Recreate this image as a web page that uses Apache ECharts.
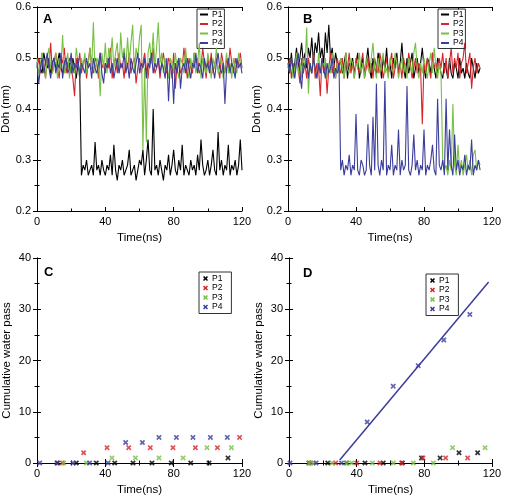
<!DOCTYPE html>
<html>
<head>
<meta charset="utf-8">
<script src="https://cdn.jsdelivr.net/npm/echarts@6/dist/echarts.min.js"></script>
<style>html,body{margin:0;padding:0;background:#fff;}#c{width:505px;height:500px;}</style>
</head>
<body>
<div id="c"></div>
<script>
// ---------- DATA ----------
const seriesNames = ['P1', 'P2', 'P3', 'P4'];
const xTicks = [0, 40, 80, 120];
const dohTicks = [0.2, 0.3, 0.4, 0.5, 0.6];
const passTicks = [0, 10, 20, 30, 40];
const sampleStepNs = 1; // Doh traces sampled every 1 ns starting at 0 ns

// Panel A: Doh (nm)
const dohA_P1 = [0.49,0.50,0.48,0.47,0.51,0.49,0.48,0.50,0.47,0.49,0.50,0.48,0.49,0.51,0.48,0.47,0.49,0.50,0.48,0.49,0.47,0.50,0.48,0.46,0.49,0.47,
0.27,0.29,0.28,0.30,0.27,0.28,0.29,0.27,0.335,0.28,
0.29,0.27,0.30,0.28,0.27,0.29,0.28,0.31,0.27,0.33,
0.28,0.26,0.29,0.28,0.30,0.27,0.28,0.29,0.32,0.27,
0.28,0.29,0.26,0.28,0.30,0.29,0.32,0.27,0.30,0.34,
0.28,0.27,0.40,0.28,0.29,0.27,0.30,0.28,0.26,0.29,
0.28,0.31,0.27,0.29,0.32,0.28,0.27,0.30,0.28,0.33,
0.27,0.29,0.28,0.27,0.30,0.28,0.29,0.27,0.31,0.28,
0.34,0.29,0.27,0.28,0.30,0.27,0.29,0.32,0.28,0.27,
0.355,0.28,0.30,0.27,0.29,0.28,0.33,0.27,0.29,0.28,
0.30,0.27,0.29,0.34,0.28];
const dohA_P2 = [0.48,0.50,0.47,0.51,0.49,0.46,0.50,0.48,0.53,0.47,
0.49,0.51,0.48,0.46,0.50,0.49,0.52,0.47,0.49,0.50,
0.48,0.46,0.425,0.50,0.48,0.51,0.47,0.49,0.50,0.46,
0.49,0.52,0.48,0.47,0.50,0.49,0.46,0.51,0.48,0.49,
0.47,0.50,0.48,0.52,0.46,0.49,0.50,0.47,0.51,0.48,
0.49,0.46,0.50,0.48,0.51,0.47,0.49,0.50,0.45,0.48,
0.50,0.47,0.49,0.51,0.48,0.46,0.50,0.49,0.52,0.47,
0.48,0.50,0.46,0.49,0.51,0.48,0.47,0.50,0.49,0.46,
0.51,0.44,0.49,0.50,0.47,0.48,0.52,0.49,0.46,0.50,
0.48,0.47,0.51,0.49,0.50,0.47,0.48,0.52,0.49,0.46,
0.50,0.48,0.51,0.47,0.49,0.50,0.48,0.46,0.51,0.49,
0.47,0.50,0.48,0.52,0.49,0.47,0.50,0.48,0.49,0.51,
0.48];
const dohA_P3 = [0.50,0.47,0.49,0.51,0.48,0.46,0.50,0.52,0.48,0.47,
0.49,0.51,0.46,0.50,0.48,0.545,0.47,0.49,0.51,0.46,
0.50,0.48,0.47,0.52,0.49,0.46,0.50,0.48,0.51,0.47,
0.49,0.52,0.48,0.57,0.47,0.50,0.49,0.425,0.51,0.48,
0.53,0.47,0.52,0.50,0.54,0.48,0.51,0.53,0.47,0.55,
0.50,0.52,0.48,0.54,0.49,0.53,0.565,0.47,0.52,0.50,
0.54,0.565,0.32,0.48,0.335,0.51,0.53,0.49,0.55,0.48,
0.52,0.57,0.49,0.51,0.47,0.50,0.48,0.46,0.50,0.49,
0.47,0.51,0.48,0.46,0.50,0.49,0.47,0.52,0.48,0.46,
0.50,0.48,0.51,0.47,0.49,0.53,0.46,0.50,0.48,0.47,
0.51,0.49,0.46,0.50,0.48,0.52,0.47,0.49,0.50,0.46,
0.48,0.51,0.47,0.49,0.46,0.50,0.48,0.47,0.51,0.49,
0.48];
const dohA_P4 = [0.49,0.45,0.48,0.50,0.47,0.49,0.51,0.48,0.46,0.49,
0.50,0.47,0.49,0.48,0.51,0.46,0.49,0.50,0.47,0.48,
0.51,0.47,0.49,0.48,0.50,0.46,0.49,0.48,0.47,0.50,
0.48,0.49,0.46,0.50,0.48,0.47,0.49,0.51,0.47,0.45,
0.49,0.48,0.50,0.47,0.49,0.46,0.48,0.50,0.47,0.49,
0.48,0.51,0.47,0.49,0.46,0.50,0.48,0.47,0.49,0.51,
0.47,0.49,0.48,0.50,0.46,0.49,0.48,0.51,0.47,0.49,
0.48,0.50,0.47,0.49,0.48,0.46,0.50,0.415,0.49,0.48,
0.41,0.49,0.47,0.50,0.44,0.48,0.49,0.47,0.50,0.48,
0.46,0.49,0.48,0.51,0.47,0.49,0.48,0.46,0.50,0.48,
0.49,0.47,0.50,0.48,0.46,0.49,0.51,0.48,0.47,0.49,
0.41,0.48,0.50,0.47,0.49,0.48,0.46,0.50,0.48,0.49,
0.47];

// Panel B: Doh (nm)
const dohB_P1 = [0.50,0.48,0.51,0.47,0.49,0.52,0.48,0.50,0.53,0.49,
0.51,0.48,0.52,0.50,0.54,0.49,0.53,0.51,0.55,0.50,
0.52,0.49,0.55,0.51,0.565,0.50,0.52,0.48,0.51,0.49,
0.48,0.50,0.47,0.49,0.51,0.46,0.49,0.48,0.50,0.47,
0.49,0.51,0.46,0.48,0.50,0.47,0.49,0.52,0.48,0.46,
0.50,0.48,0.47,0.51,0.49,0.46,0.50,0.48,0.52,0.47,
0.49,0.46,0.50,0.48,0.51,0.47,0.49,0.53,0.48,0.46,
0.50,0.47,0.49,0.51,0.46,0.48,0.50,0.47,0.49,0.52,
0.48,0.46,0.50,0.49,0.47,0.51,0.48,0.46,0.50,0.49,
0.47,0.46,0.49,0.48,0.46,0.50,0.47,0.46,0.49,0.48,
0.46,0.50,0.47,0.48,0.46,0.49,0.47,0.46,0.50,0.48,
0.46,0.49,0.47,0.48];
const dohB_P2 = [0.48,0.50,0.46,0.49,0.47,0.51,0.48,0.45,0.50,0.47,
0.49,0.46,0.50,0.48,0.47,0.51,0.46,0.49,0.48,0.425,
0.50,0.47,0.49,0.43,0.48,0.51,0.47,0.49,0.46,0.50,
0.48,0.47,0.50,0.46,0.49,0.48,0.51,0.47,0.49,0.46,
0.50,0.48,0.47,0.49,0.51,0.46,0.48,0.50,0.47,0.49,
0.46,0.50,0.48,0.47,0.51,0.49,0.46,0.48,0.50,0.47,
0.49,0.51,0.46,0.48,0.50,0.47,0.49,0.46,0.50,0.48,
0.47,0.51,0.49,0.46,0.48,0.50,0.47,0.49,0.48,0.37,
0.49,0.47,0.50,0.48,0.46,0.51,0.48,0.49,0.47,0.50,
0.48,0.51,0.47,0.50,0.46,0.49,0.52,0.47,0.50,0.48,
0.51,0.46,0.49,0.50,0.53,0.47,0.49,0.51,0.44,0.48,
0.50,0.47,0.49,0.48];
const dohB_P3 = [0.49,0.47,0.50,0.46,0.48,0.51,0.47,0.49,0.46,0.50,
0.48,0.56,0.43,0.49,0.47,0.50,0.48,0.46,0.51,0.47,
0.49,0.48,0.50,0.46,0.49,0.47,0.51,0.48,0.46,0.49,
0.47,0.50,0.48,0.46,0.51,0.48,0.47,0.50,0.49,0.46,
0.49,0.48,0.51,0.47,0.49,0.46,0.50,0.48,0.47,0.50,
0.53,0.48,0.46,0.50,0.47,0.49,0.51,0.47,0.48,0.46,
0.50,0.48,0.47,0.51,0.49,0.46,0.48,0.50,0.47,0.49,
0.46,0.50,0.48,0.47,0.51,0.53,0.48,0.46,0.49,0.47,
0.50,0.48,0.46,0.49,0.51,0.47,0.52,0.48,0.46,0.49,
0.47,0.30,0.28,0.29,0.27,0.30,0.28,0.41,0.29,0.27,
0.33,0.28,0.30,0.27,0.29,0.31,0.28,0.30,0.27,0.31,
0.32,0.28,0.30,0.29];
const dohB_P4 = [0.49,0.47,0.50,0.48,0.46,0.49,0.51,0.47,0.44,0.49,
0.48,0.50,0.46,0.49,0.47,0.50,0.48,0.46,0.49,0.47,
0.50,0.48,0.46,0.49,0.47,0.48,0.50,0.46,0.48,0.47,
0.49,0.28,0.30,0.27,0.29,0.28,0.31,0.27,0.29,0.28,
0.39,0.28,0.27,0.30,0.29,0.27,0.28,0.37,0.29,0.27,
0.385,0.28,0.45,0.29,0.27,0.30,0.28,0.455,0.27,0.29,
0.28,0.33,0.27,0.29,0.28,0.36,0.27,0.30,0.28,0.29,
0.445,0.28,0.27,0.29,0.35,0.28,0.30,0.27,0.29,0.28,
0.36,0.27,0.29,0.28,0.30,0.33,0.28,0.27,0.42,0.29,
0.28,0.30,0.27,0.42,0.28,0.36,0.29,0.27,0.35,0.28,
0.30,0.27,0.29,0.28,0.31,0.27,0.29,0.28,0.34,0.27,
0.29,0.28,0.30,0.28];

// Panel C: cumulative water pass [time ns, count]
const passC_P1 = [[12,0],[23,0],[34.7,0],[45.5,0],[56.2,0],[67.3,0],[78.6,0],[90,0],[100.7,0],[111.8,1]];
const passC_P2 = [[14.8,0],[27.3,2],[41,3],[53.7,3],[66.3,3],[79.6,3],[92.7,3],[105.6,3],[118.6,5]];
const passC_P3 = [[15.6,0],[28.9,0],[43.9,1],[57.6,1],[71.4,1],[85.5,1],[99.5,3],[113.8,3]];
const passC_P4 = [[1.6,0],[11.7,0],[21,0],[30.8,0],[41.6,0],[51.9,4],[61.7,4],[71.4,5],[81.6,5],[91.3,5],[101.5,5],[111.4,5]];

// Panel D: cumulative water pass [time ns, count]
const passD_P1 = [[11.8,0],[22.9,0],[34,0],[44.9,0],[55.7,0],[67,0],[78.3,1],[89.3,1],[100.5,2],[111.5,2]];
const passD_P2 = [[12.8,0],[27.6,0],[40,0],[53.8,0],[66.6,0],[79.2,1],[92.6,1],[105.6,1]];
const passD_P3 = [[11.8,0],[14.4,0],[25.5,0],[34.1,0],[37,0],[49.3,0],[61.7,0],[73.5,0],[85.3,0],[96.7,3],[115.9,3]];
const passD_P4 = [[0.6,0],[16,0],[31,0],[46.2,8],[61.6,15],[76.4,19],[91.5,24],[106.9,29]];
const fitD_P4 = [[30,0.6],[118,35.3]];

// ---------- STYLE ----------
const colors = ['#000000', '#d8232a', '#77c043', '#3b3d9b'];
const FONT = 'Liberation Sans, Arial, sans-serif';
const xMark = 'path://M0,2.2L2.2,0L5,2.8L7.8,0L10,2.2L7.2,5L10,7.8L7.8,10L5,7.2L2.2,10L0,7.8L2.8,5Z';

const grids = [
  {left: 37, top: 7, width: 205, height: 204},
  {left: 288, top: 7, width: 204, height: 204},
  {left: 37, top: 258, width: 205, height: 205},
  {left: 289, top: 258, width: 203, height: 205}
].map(g => Object.assign(g, {containLabel: false, outerBoundsMode: 'none'}));

function toPairs(vals) { return vals.map((v, i) => [i * sampleStepNs, v]); }

const lineStyleAxis = {show: true, lineStyle: {color: '#000', width: 1}};
const tickCommon = {show: true, inside: true, length: 4, lineStyle: {color: '#000'}};
const minorCommon = {show: true, splitNumber: 2, length: 2.5, lineStyle: {color: '#000'}};
function mainX(g) {
  return {type: 'value', gridIndex: g, min: xTicks[0], max: xTicks[xTicks.length - 1], interval: xTicks[1] - xTicks[0],
    position: 'bottom', axisLine: lineStyleAxis, axisTick: tickCommon, minorTick: minorCommon,
    splitLine: {show: false}, minorSplitLine: {show: false},
    axisLabel: {color: '#000', fontSize: 11, fontFamily: FONT, margin: 5},
    name: 'Time(ns)', nameLocation: 'middle', nameGap: 21,
    nameTextStyle: {color: '#000', fontSize: 11.5, fontFamily: FONT}};
}
function mirrorX(g) {
  return {type: 'value', gridIndex: g, min: xTicks[0], max: xTicks[xTicks.length - 1], interval: xTicks[1] - xTicks[0],
    position: 'top', axisLine: lineStyleAxis, axisTick: tickCommon, minorTick: minorCommon,
    splitLine: {show: false}, axisLabel: {show: false}};
}
function mainY(g, ticks, name, digits) {
  return {type: 'value', gridIndex: g, min: ticks[0], max: ticks[ticks.length - 1], interval: ticks[1] - ticks[0],
    position: 'left', axisLine: lineStyleAxis, axisTick: tickCommon, minorTick: minorCommon,
    splitLine: {show: false},
    axisLabel: {color: '#000', fontSize: 11, fontFamily: FONT, margin: 6, formatter: v => Number(v).toFixed(digits)},
    name: name, nameLocation: 'middle', nameGap: 24, nameRotate: 90,
    nameTextStyle: {color: '#000', fontSize: 11.5, fontFamily: FONT}};
}
function mirrorY(g, ticks) {
  return {type: 'value', gridIndex: g, min: ticks[0], max: ticks[ticks.length - 1], interval: ticks[1] - ticks[0],
    position: 'right', axisLine: lineStyleAxis, axisTick: tickCommon, minorTick: minorCommon,
    splitLine: {show: false}, axisLabel: {show: false}};
}

const xAxis = [mainX(0), mainX(1), mainX(2), mainX(3), mirrorX(0), mirrorX(1), mirrorX(2), mirrorX(3)];
const yAxis = [mainY(0, dohTicks, 'Doh (nm)', 1), mainY(1, dohTicks, 'Doh (nm)', 1),
  mainY(2, passTicks, 'Cumulative water pass', 0), mainY(3, passTicks, 'Cumulative water pass', 0),
  mirrorY(0, dohTicks), mirrorY(1, dohTicks), mirrorY(2, passTicks), mirrorY(3, passTicks)];

const series = [];
const dohA = [dohA_P1, dohA_P2, dohA_P3, dohA_P4];
const dohB = [dohB_P1, dohB_P2, dohB_P3, dohB_P4];
const passC = [passC_P1, passC_P2, passC_P3, passC_P4];
const passD = [passD_P1, passD_P2, passD_P3, passD_P4];
[dohA, dohB].forEach((set, g) => {
  set.forEach((vals, k) => {
    series.push({type: 'line', name: seriesNames[k], xAxisIndex: g, yAxisIndex: g, data: toPairs(vals),
      symbol: 'none', color: colors[k], lineStyle: {width: 1.1, color: colors[k]}, z: 2 + k});
  });
});
[passC, passD].forEach((set, j) => {
  const g = j + 2;
  set.forEach((pts, k) => {
    series.push({type: 'scatter', name: seriesNames[k], xAxisIndex: g, yAxisIndex: g, data: pts,
      symbol: xMark, symbolSize: 5.5, color: colors[k], itemStyle: {color: colors[k]}, clip: false, z: 5 + k});
  });
});
series.push({type: 'line', name: 'fit', xAxisIndex: 3, yAxisIndex: 3, data: fitD_P4, symbol: 'none',
  lineStyle: {width: 1.5, color: colors[3]}, color: colors[3], z: 4});

function legendAt(left, top, isLine) {
  return {orient: 'vertical', left: left, top: top, itemGap: 0.5,
    itemWidth: isLine ? 8 : 5, itemHeight: isLine ? 2 : 5,
    icon: isLine ? 'rect' : xMark,
    padding: isLine ? [1, 2, 1, 3] : [2, 9, 2, 4],
    borderColor: '#333', borderWidth: 1, selectedMode: false,
    textStyle: {fontSize: 8.5, fontFamily: FONT, color: '#000', lineHeight: 8.5, padding: [0, 0, 0, -1]},
    data: seriesNames};
}

const letters = [['A', 43, 13], ['B', 303, 13], ['C', 44, 266], ['D', 303, 267]];

const option = {
  animation: false,
  backgroundColor: '#ffffff',
  grid: grids,
  xAxis: xAxis,
  yAxis: yAxis,
  legend: [legendAt(197, 9, true), legendAt(438, 9, true), legendAt(199, 272, false), legendAt(426, 274, false)],
  title: letters.map(l => ({text: l[0], left: l[1], top: l[2], padding: 0,
    textStyle: {fontSize: 13, fontWeight: 'bold', fontFamily: FONT, color: '#000'}})),
  series: series
};

const chart = echarts.init(document.getElementById('c'), null, {renderer: 'canvas'});
chart.setOption(option);
</script>
</body>
</html>
